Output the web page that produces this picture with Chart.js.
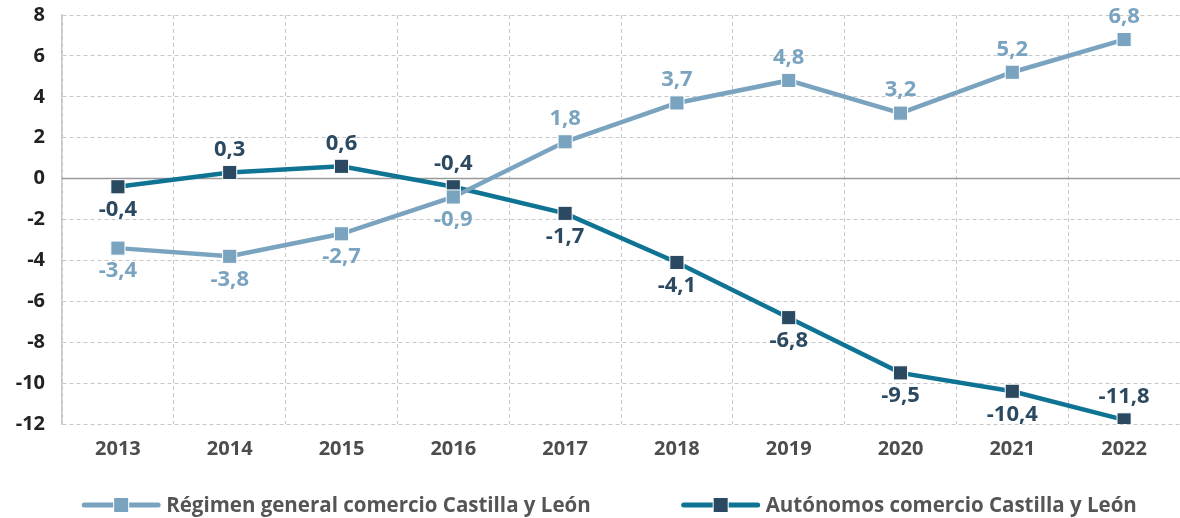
<!DOCTYPE html>
<html><head><meta charset="utf-8">
<script src="https://cdn.jsdelivr.net/npm/chart.js@4.4.0/dist/chart.umd.min.js"></script>
<style>html,body{margin:0;padding:0;background:#fff}#wrap{width:1180px;height:518px}</style>
</head><body><div id="wrap"><canvas id="c" width="1180" height="518"></canvas></div>
<script>
const categories = ['2013','2014','2015','2016','2017','2018','2019','2020','2021','2022'];
const regimenGeneral = [-3.4,-3.8,-2.7,-0.9,1.8,3.7,4.8,3.2,5.2,6.8];
const autonomos = [-0.4,0.3,0.6,-0.4,-1.7,-4.1,-6.8,-9.5,-10.4,-11.8];
const seriesNames = ['Régimen general comercio Castilla y León','Autónomos comercio Castilla y León'];
const yTicks = [8,6,4,2,0,-2,-4,-6,-8,-10,-12];

const LIGHT = '#7aa3bf', TEAL = '#0f7394', NAVY = '#2b4a62';
const FONT = "'Open Sans', 'Noto Sans', sans-serif";
const labelPos = [
  ['b','b','b','b','a','a','a','a','a','a'],
  ['b','a','a','a','b','b','b','b','b','a']
];
const lineColors = [LIGHT, TEAL];
const boxColors = [LIGHT, NAVY];

const dataLabels = {
  id:'dataLabels',
  afterDatasetsDraw(chart){
    const ctx = chart.ctx;
    ctx.save();
    ctx.font = "bold 22px " + FONT;
    ctx.textAlign = 'center'; ctx.textBaseline = 'middle';
    chart.data.datasets.forEach((ds, di) => {
      const meta = chart.getDatasetMeta(di);
      ctx.fillStyle = di === 0 ? LIGHT : NAVY;
      meta.data.forEach((pt, i) => {
        const v = ds.data[i];
        const txt = v.toFixed(1).replace('.', ',');
        const dy = labelPos[di][i] === 'a' ? -23 : 23;
        ctx.fillText(txt, pt.x, pt.y + dy);
      });
    });
    ctx.restore();
  }
};

const zeroLine = {
  id:'zeroLine',
  beforeDatasetsDraw(chart){
    const {ctx, chartArea, scales} = chart;
    const y = scales.y.getPixelForValue(0);
    ctx.save();
    ctx.strokeStyle = '#9a9a9a'; ctx.lineWidth = 1.5; ctx.setLineDash([]);
    ctx.beginPath(); ctx.moveTo(chartArea.left, y); ctx.lineTo(chartArea.right, y); ctx.stroke();
    ctx.restore();
  }
};

const customLegend = {
  id:'customLegend',
  afterDraw(chart){
    const ctx = chart.ctx;
    ctx.save();
    ctx.font = "bold 20.5px " + FONT;
    ctx.textBaseline = 'middle'; ctx.textAlign = 'left';
    const symW = 80, textGap = 5, itemGap = 90, cy = 505;
    const widths = chart.data.datasets.map(ds => symW + textGap + ctx.measureText(ds.label).width);
    const total = widths.reduce((a,b)=>a+b,0) + itemGap*(widths.length-1);
    let x = 609 - total/2;
    chart.data.datasets.forEach((ds, i) => {
      ctx.strokeStyle = lineColors[i]; ctx.lineWidth = 5; ctx.lineCap = 'round';
      ctx.beginPath(); ctx.moveTo(x+3, cy); ctx.lineTo(x+symW-3, cy); ctx.stroke();
      ctx.fillStyle = '#fff'; ctx.fillRect(x+symW/2-8, cy-8, 16, 16);
      ctx.fillStyle = boxColors[i]; ctx.fillRect(x+symW/2-7, cy-7, 14, 14);
      ctx.fillStyle = '#555';
      ctx.fillText(ds.label, x + symW + textGap, cy + 1);
      x += widths[i] + itemGap;
    });
    ctx.restore();
  }
};

new Chart(document.getElementById('c'), {
  type:'line',
  data:{
    labels: categories,
    datasets:[
      {label:seriesNames[0], data:regimenGeneral, borderColor:LIGHT, backgroundColor:LIGHT,
       borderWidth:4.5, pointStyle:'rect', pointRadius:10, pointBorderColor:'#fff', pointBorderWidth:1,
       pointBackgroundColor:LIGHT, tension:0},
      {label:seriesNames[1], data:autonomos, borderColor:TEAL, backgroundColor:NAVY,
       borderWidth:4.5, pointStyle:'rect', pointRadius:10, pointBorderColor:'#fff', pointBorderWidth:1,
       pointBackgroundColor:NAVY, tension:0}
    ]
  },
  options:{
    responsive:false, animation:false,
    layout:{autoPadding:false, padding:{top:15,right:0,left:0,bottom:54}},
    scales:{
      x:{
        offset:true,
        grid:{offset:true, color:'#c8c8c8', lineWidth:1, drawTicks:false},
        border:{display:false, dash:[4,3]},
        ticks:{color:'#4d4d4d', font:{family:FONT, size:20, weight:'bold'}, padding:13},
        afterFit(s){ s.height = 40; s.paddingLeft = 0; s.paddingRight = 0; }
      },
      y:{
        min:-12, max:8, afterBuildTicks(s){ s.ticks = yTicks.map(v=>({value:v})); },
        grid:{color:(c)=> c.tick && c.tick.value===0 ? 'rgba(0,0,0,0)' : '#c8c8c8',
              lineWidth:1, drawTicks:false},
        border:{display:true, color:'#c8c8c8', width:1.5, dash:[4,3]},
        ticks:{color:'#222', font:{family:FONT, size:20, weight:'bold'}, padding:17,
               callback:(v)=> String(v)},
        afterFit(s){ s.width = 62; s.paddingTop = 0; s.paddingBottom = 0; }
      }
    },
    plugins:{ legend:{display:false}, tooltip:{enabled:false} }
  },
  plugins:[zeroLine, dataLabels, customLegend]
});
</script></body></html>
